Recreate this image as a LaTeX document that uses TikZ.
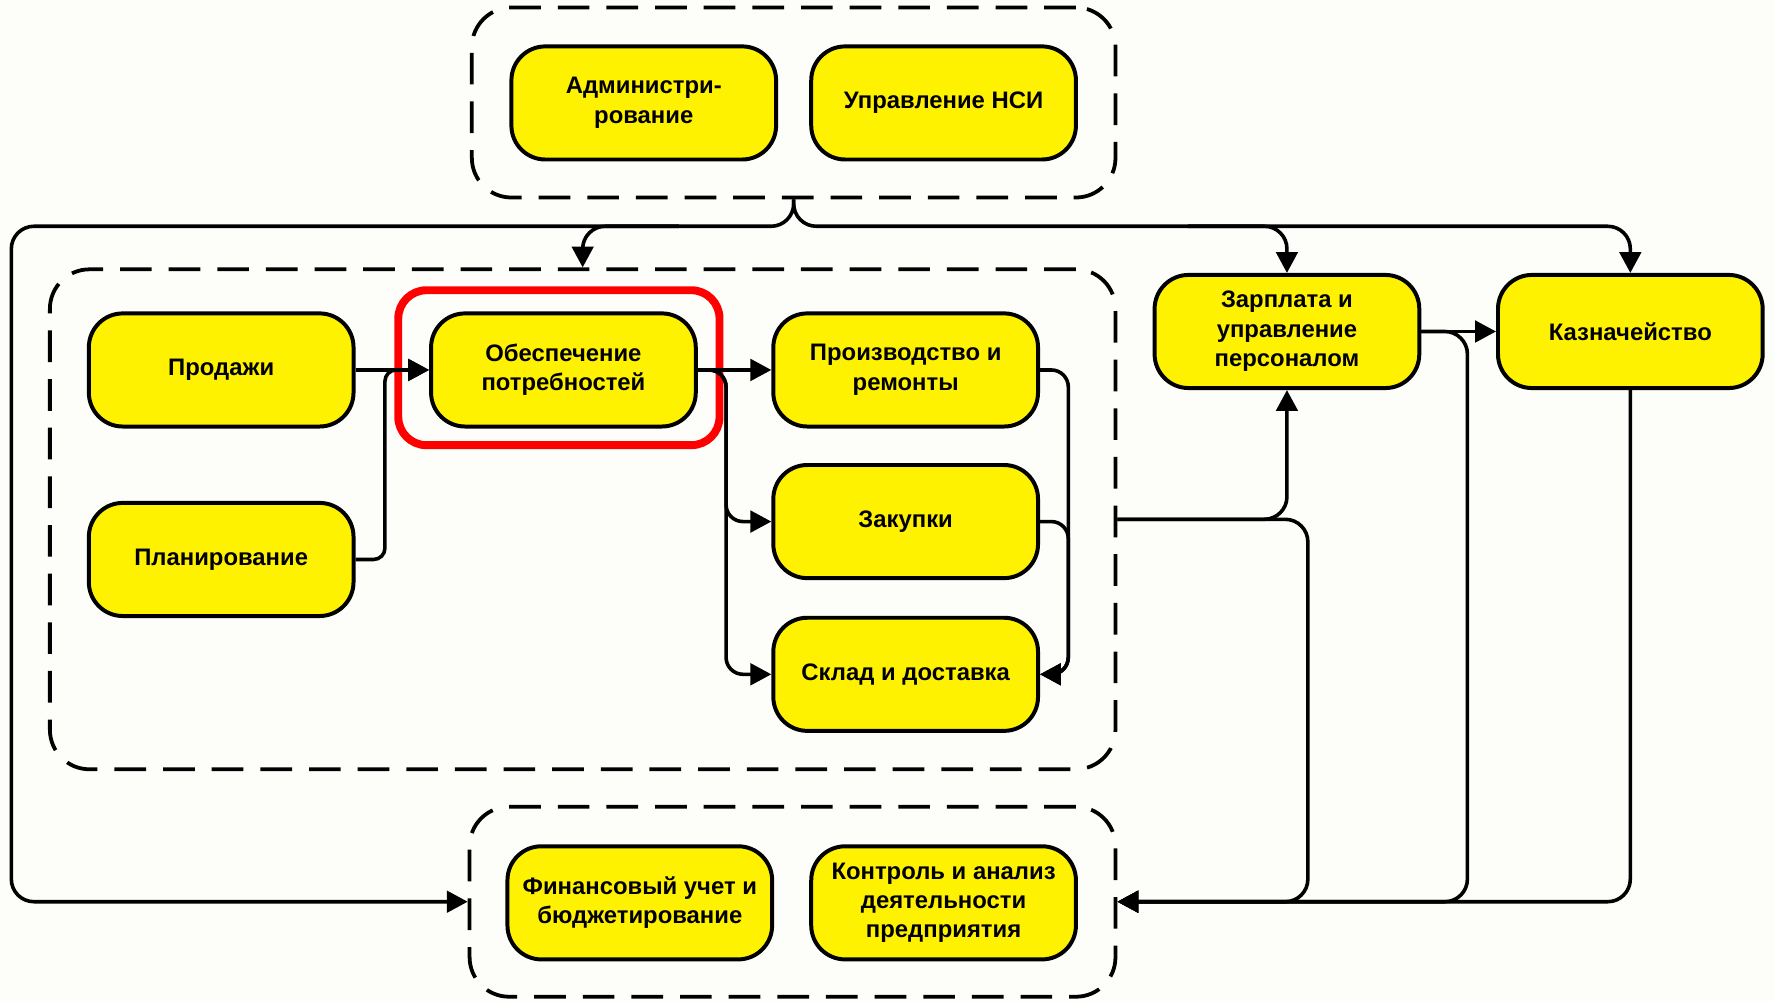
\documentclass[tikz,border=0pt]{standalone}
\usepackage{fontspec}
\setmainfont{Liberation Sans}
\usepackage{xcolor}
\usetikzlibrary{arrows.meta}
\definecolor{bg}{RGB}{253,253,250}

\begin{document}
\begin{tikzpicture}
    [
    x=0.02cm, y=-0.02cm,
    box/.style = {draw, line width=2pt, fill=yellow, rounded corners=0.6cm, minimum width=4.68cm, minimum height=2cm, inner sep=2pt, align=center, font=\fontsize{12}{14.8}\selectfont\bfseries},
    grp/.style = {draw, line width=1.9pt, dash pattern=on 0.56cm off 0.3cm, rounded corners=0.7cm, inner sep=0pt},
    hl/.style = {draw=red, line width=0.14cm, rounded corners=0.5cm, minimum width=5.68cm, minimum height=2.74cm},
    wire/.style = {line width=1.8pt, rounded corners=0.4cm},
    arr/.style = {wire, -{Triangle[length=0.37cm,width=0.38cm]}}
    ]
\fill[bg] (0,0) rectangle (1568,885);

\node[grp, minimum width=11.38cm, minimum height=3.36cm] (grpTop) at (701.5,90.6) {};
\node[grp, minimum width=18.84cm, minimum height=8.84cm] (grpMid) at (515,459) {};
\node[grp, minimum width=11.42cm, minimum height=3.36cm] (grpBot) at (700.5,797) {};

\node[box] (adm) at (569,91) {Администри-\\рование};
\node[box] (nsi) at (834,91) {Управление НСИ};

\node[box] (prod) at (195.5,327) {Продажи};
\node[box] (plan) at (195.5,494.5) {Планирование};
\node[hl] (hl) at (494,325) {};
\node[box] (obesp) at (498,327) {Обеспечение\\потребностей};
\node[box] (proizv) at (800.5,327) {Производство и\\ремонты};
\node[box] (zakup) at (800.5,461) {Закупки};
\node[box] (sklad) at (800.5,596) {Склад и доставка};

\node[box] (zarpl) at (1137.5,293) {Зарплата и\\управление\\персоналом};
\node[box] (kazn) at (1441,293) {Казначейство};

\node[box] (fin) at (565.5,798) {Финансовый учет и\\бюджетирование};
\node[box] (kontr) at (834,798) {Контроль и анализ\\деятельности\\предприятия};

% bus from the top group
\draw[arr] (grpTop.south) |- (10,200) |- (grpBot.west);
\draw[arr] (grpTop.south) |- (1300,200) -| (kazn.north);
\draw[arr] (600,200) -| (grpMid.north);
\draw[arr] (1050,200) -| (zarpl.north);

\draw[arr] (prod) -- (obesp);
\draw[arr, rounded corners=0.2cm] (plan.east) -- ++(26,0) |- (obesp.west);
\draw[arr] (obesp) -- (proizv);
\draw[arr, rounded corners=0.3cm] (obesp.east) -- ++(25,0) |- (zakup.west);
\draw[arr, rounded corners=0.3cm] (obesp.east) -- ++(25,0) |- (sklad.west);
\draw[arr, rounded corners=0.3cm] (proizv.east) -- ++(25,0) |- (sklad.east);
\draw[arr, rounded corners=0.3cm] (zakup.east) -- ++(25,0) |- (sklad.east);

\draw[arr] (grpMid.east) -| (zarpl.south);
\draw[arr] (grpMid.east) -| (1156,797) -- (grpBot.east);
\draw[arr] (zarpl) -- (kazn);
\draw[arr] (zarpl.east) -| (1297,797) -- (grpBot.east);
\draw[arr] (kazn.south) |- (grpBot.east);

\end{tikzpicture}
\end{document}
